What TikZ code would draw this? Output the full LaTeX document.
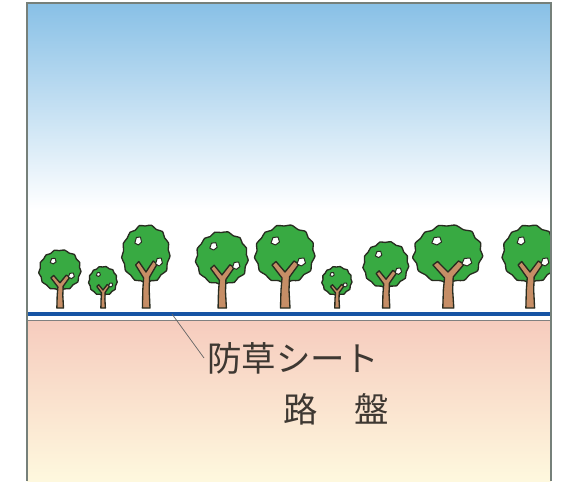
\documentclass[tikz,border=0pt]{standalone}
\usepackage{fontspec}
\newfontfamily\jpfont{Noto Sans CJK JP}
\usepackage{tikz}
\usetikzlibrary{positioning, calc}
\usepackage{xcolor}
\definecolor{skytop}{RGB}{136,192,230}
\definecolor{groundtop}{RGB}{246,204,190}
\definecolor{groundbot}{RGB}{254,248,222}
\definecolor{sheetblue}{RGB}{22,84,164}
\definecolor{leafgreen}{RGB}{56,170,66}
\definecolor{barkbrown}{RGB}{198,142,102}
\definecolor{inkline}{RGB}{40,44,32}
\definecolor{framegray}{RGB}{118,128,122}
\definecolor{labelgray}{RGB}{62,56,50}
\tikzset{
  treeline/.style={draw=inkline, line width=0.95pt, line join=round},
  labeltext/.style={font=\jpfont\fontsize{24.5}{28}\selectfont, text=labelgray},
  % one tree, trunk foot at the origin
  tree/.pic={
    \begin{scope}[shift={(0,52)}]
      \draw[treeline, fill=leafgreen] plot[smooth cycle, tension=0.45] coordinates {
        (0:30) (12:28.5) (25:31) (38:29.5) (50:32) (63:29.5) (78:31.5) (92:30)
        (105:31.5) (118:29) (130:31) (143:29.5) (156:31) (170:28.5) (183:30.5)
        (196:28) (210:29.5) (225:27) (240:28) (255:25.5) (270:27) (285:25.5)
        (300:28) (315:26.5) (330:29.5) (345:27.5)};
    \end{scope}
    \draw[treeline, fill=barkbrown]
      (-4.5,0) -- (-4,18) -- (-3,30) -- (-13,43) -- (-9,46.5) -- (0,36)
      -- (9,47) -- (14,44) -- (4.5,31) -- (4,18) -- (5,0) -- cycle;
    \foreach \hx/\hy in {-10/67, 16/46}
      \draw[treeline, line width=0.7pt, fill=white]
        (\hx-4,\hy-2) -- (\hx-2,\hy+3.5) -- (\hx+3,\hy+4) -- (\hx+4.5,\hy-1)
        -- (\hx+0.5,\hy-4) -- cycle;
  }
}

\begin{document}
\begin{tikzpicture}[x=0.025cm,y=0.025cm]

\useasboundingbox (0,0) rectangle (564,481);
\fill[white] (0,0) rectangle (564,481);

% ── Sky and ground ────────────────────────────────────────────────────────────
\shade[top color=skytop, bottom color=white] (27,272) rectangle (551,478);
\shade[top color=groundtop, bottom color=groundbot] (27,0) rectangle (551,160);

% Weed sheet on top of the subgrade
\draw[sheetblue, line width=2.85pt] (27,167) -- (551,167);
\draw[gray, line width=0.5pt] (27,160.5) -- (551,160.5);

% ── Trees ─────────────────────────────────────────────────────────────────────
\begin{scope}
  \clip (27,0) rectangle (551,478);
  \foreach \x/\s/\xs in {60/0.7/1, 103/0.5/0.95, 146/1/0.8, 222/0.92/0.95,
                         285/1/1, 337/0.5/1, 386/0.8/0.95, 448/1/1.16,
                         530/1/0.92}
    \pic[scale=\s, xscale=\xs] at (\x,173) {tree};
\end{scope}

% Frame
\draw[framegray, line width=1pt] (27,0) -- (27,478) -- (551,478) -- (551,0);

% ── Labels ────────────────────────────────────────────────────────────────────
\coordinate (sheetpt) at (172,167);
\node[labeltext, anchor=west, inner sep=2pt] (sheet) at (204,123) {防草シート};
\draw[gray!80!black, line width=0.5pt] (sheetpt) -- (sheet.west);
\node[labeltext] (subgrade) at (336,72) {路\hspace{1.05em}盤};

\end{tikzpicture}
\end{document}
